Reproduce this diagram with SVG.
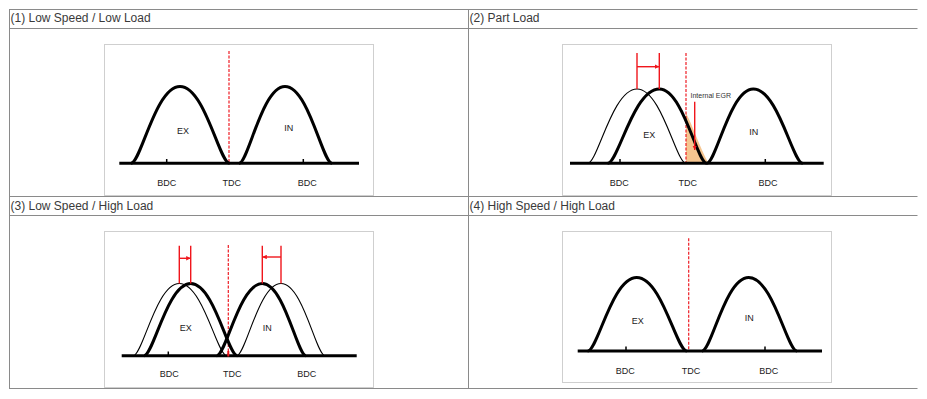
<svg xmlns="http://www.w3.org/2000/svg" width="927" height="399" viewBox="0 0 927 399">
<defs>
<style>
.grid{stroke:#8a8a8a;stroke-width:1;fill:none}
.hdr{font-family:"Liberation Sans",Arial,sans-serif;font-size:12px;fill:#3a3a3a}
.frame{fill:#fff;stroke:#cfcfcf;stroke-width:1}
.base{stroke:#000;stroke-width:3;fill:none}
.tick{stroke:#000;stroke-width:1.5}
.thick{stroke:#000;stroke-width:3;fill:none;stroke-linejoin:round}
.thin{stroke:#000;stroke-width:1.1;fill:none}
.tdc{stroke:#ee1c24;stroke-width:1.2;stroke-dasharray:3 1.5;fill:none}
.red{stroke:#f0161c;stroke-width:1.4;fill:none}
.lbl{font-family:"Liberation Sans",Arial,sans-serif;font-size:9px;fill:#222;text-anchor:middle}
.small{font-family:"Liberation Sans",Arial,sans-serif;font-size:7px;fill:#333}
.egr{fill:#f5c590;stroke:none}
</style>
<marker id="ah" viewBox="0 0 6 6" refX="6" refY="3" markerWidth="4.5" markerHeight="4.5" markerUnits="userSpaceOnUse" orient="auto">
<path d="M0,0 L6,3 L0,6 z" fill="#f0161c"/>
</marker>
</defs>
<rect width="927" height="399" fill="#fff"/>

<g id="table">
<line class="grid" x1="9" y1="9.5" x2="917.5" y2="9.5"/>
<line class="grid" x1="9" y1="28.5" x2="917.5" y2="28.5"/>
<line class="grid" x1="9" y1="196.5" x2="917.5" y2="196.5"/>
<line class="grid" x1="9" y1="215.5" x2="917.5" y2="215.5"/>
<line class="grid" x1="9" y1="388.5" x2="917.5" y2="388.5"/>
<line class="grid" x1="9.5" y1="9" x2="9.5" y2="389"/>
<line class="grid" x1="468.5" y1="9" x2="468.5" y2="389"/>
<text class="hdr" x="10.5" y="22">(1) Low Speed / Low Load</text>
<text class="hdr" x="469.5" y="22">(2) Part Load</text>
<text class="hdr" x="10.5" y="209.5">(3) Low Speed / High Load</text>
<text class="hdr" x="469.5" y="209.5">(4) High Speed / High Load</text>
</g>

<g id="panel1">
<rect class="frame" x="104.5" y="44.5" width="269" height="151"/>
<line class="tdc" x1="229" y1="51" x2="229" y2="163"/>
<path class="thick" d="M131,163.3 C140.8,163.3 155.5,86.5 180,86.5 C204.75,86.5 219.6,163.3 229.5,163.3"/>
<path class="thick" d="M239,163.3 C248.2,163.3 262,86.5 285,86.5 C308.5,86.5 322.6,163.3 332,163.3"/>
<line class="base" x1="119.3" y1="163.3" x2="359" y2="163.3"/>
<line class="tick" x1="166.7" y1="163" x2="166.7" y2="159"/>
<line class="tick" x1="303.3" y1="163" x2="303.3" y2="159"/>
<text class="lbl" x="183" y="134">EX</text>
<text class="lbl" x="288.7" y="131">IN</text>
<text class="lbl" x="166.7" y="186">BDC</text>
<text class="lbl" x="231.7" y="186">TDC</text>
<text class="lbl" x="307.3" y="186">BDC</text>
</g>

<g id="panel2">
<rect class="frame" x="562.5" y="44.5" width="269" height="151"/>
<path class="egr" d="M686,113 C692,124 700,148 708.5,163.3 L686,163.3 Z"/>
<line class="tdc" x1="686" y1="53" x2="686" y2="163"/>
<path class="thin" d="M587.7,163.3 C597.56,163.3 612.35,89 637,89 C661.5,89 676.2,163.3 686,163.3"/>
<path class="thick" d="M607.7,163.3 C618.02,163.3 633.5,89 659.3,89 C683,89 697.22,163.3 706.7,163.3"/>
<path class="thick" d="M706.7,163.3 C716.02,163.3 730,89 753.3,89 C778,89 792.82,163.3 802.7,163.3"/>
<line class="base" x1="570" y1="163.3" x2="823.7" y2="163.3"/>
<line class="tick" x1="620" y1="163" x2="620" y2="159"/>
<line class="tick" x1="765.3" y1="163" x2="765.3" y2="159"/>
<line class="red" x1="637" y1="53" x2="637" y2="89"/>
<line class="red" x1="659.3" y1="53" x2="659.3" y2="89"/>
<line class="red" x1="637" y1="66.7" x2="659.3" y2="66.7" marker-end="url(#ah)"/>
<line class="red" x1="694.7" y1="101.7" x2="694.7" y2="150" marker-end="url(#ah)"/>
<text class="small" x="690.5" y="98">Internal EGR</text>
<text class="lbl" x="649.3" y="138">EX</text>
<text class="lbl" x="753.7" y="135">IN</text>
<text class="lbl" x="619.3" y="185.5">BDC</text>
<text class="lbl" x="687.7" y="185.5">TDC</text>
<text class="lbl" x="768" y="185.5">BDC</text>
</g>

<g id="panel3">
<rect class="frame" x="104.5" y="231.5" width="269" height="156"/>
<line class="tdc" x1="228.3" y1="245" x2="228.3" y2="355"/>
<path class="thin" d="M133.3,355.7 C142.5,355.7 156.3,283.5 179.3,283.5 C203,283.5 217.22,355.7 226.7,355.7"/>
<path class="thick" d="M144,355.7 C153.34,355.7 167.35,283.5 190.7,283.5 C214,283.5 227.98,355.7 237.3,355.7"/>
<path class="thick" d="M216.7,355.7 C225.82,355.7 239.5,283.5 262.3,283.5 C284.15,283.5 297.26,355.7 306,355.7"/>
<path class="thin" d="M236.7,355.7 C245.56,355.7 258.85,283.5 281,283.5 C303,283.5 316.2,355.7 325,355.7"/>
<line class="base" x1="121.7" y1="355.7" x2="356.7" y2="355.7"/>
<line class="tick" x1="168.3" y1="355" x2="168.3" y2="351.5"/>
<line x1="228.3" y1="351" x2="228.3" y2="356.5" stroke="#e8141b" stroke-width="2"/>
<line class="red" x1="179.3" y1="245.7" x2="179.3" y2="283.5"/>
<line class="red" x1="190.7" y1="245.7" x2="190.7" y2="283.5"/>
<line class="red" x1="179.3" y1="258.3" x2="190.7" y2="258.3" marker-end="url(#ah)"/>
<line class="red" x1="262.3" y1="245.7" x2="262.3" y2="283.5"/>
<line class="red" x1="281" y1="245.7" x2="281" y2="283.5"/>
<line class="red" x1="281" y1="257" x2="262.3" y2="257" marker-end="url(#ah)"/>
<text class="lbl" x="185.7" y="331">EX</text>
<text class="lbl" x="267.3" y="331">IN</text>
<text class="lbl" x="169.3" y="377">BDC</text>
<text class="lbl" x="232.3" y="377">TDC</text>
<text class="lbl" x="306.7" y="377">BDC</text>
</g>

<g id="panel4">
<rect class="frame" x="562.5" y="231.5" width="269" height="151"/>
<line class="tdc" x1="688.7" y1="238.3" x2="688.7" y2="351"/>
<path class="thick" d="M587.7,351 C597.5,351 612.2,277.5 636.7,277.5 C661.7,277.5 676.7,351 686.7,351"/>
<path class="thick" d="M702,351 C711.34,351 725.35,277.5 748.7,277.5 C772.85,277.5 787.34,351 797,351"/>
<line class="base" x1="577.7" y1="351" x2="822" y2="351"/>
<line class="tick" x1="626" y1="350.5" x2="626" y2="346.5"/>
<line class="tick" x1="765" y1="350.5" x2="765" y2="346.5"/>
<text class="lbl" x="637.7" y="324">EX</text>
<text class="lbl" x="749.3" y="320.5">IN</text>
<text class="lbl" x="625.3" y="374">BDC</text>
<text class="lbl" x="691" y="374">TDC</text>
<text class="lbl" x="768.7" y="374">BDC</text>
</g>
</svg>
